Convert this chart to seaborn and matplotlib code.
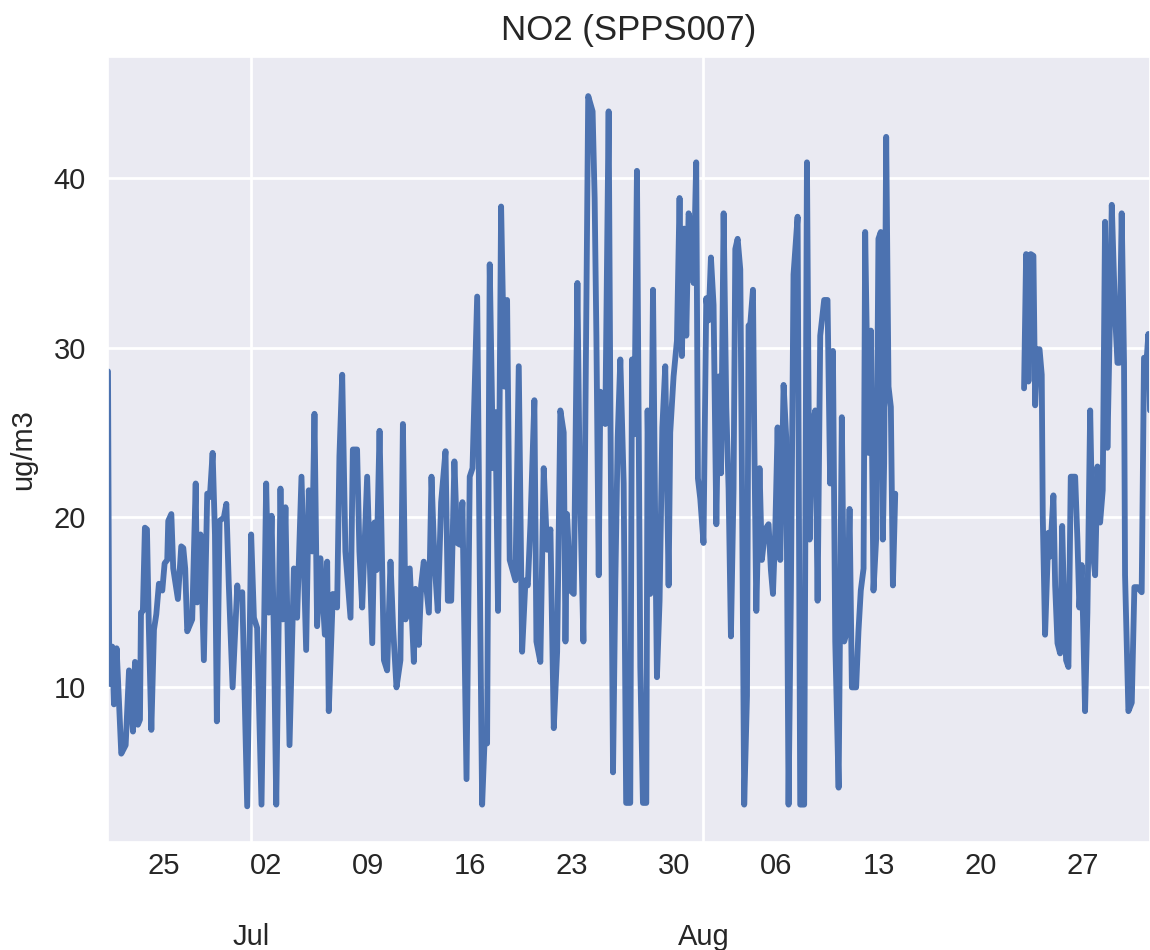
import numpy as np
import pandas as pd
import seaborn as sns
import matplotlib
matplotlib.use("Agg")
import matplotlib.pyplot as plt
import matplotlib.dates as mdates
from matplotlib.ticker import MultipleLocator

# hourly NO2 at SPPS007 (days after 2018-06-21 00:00)
start = pd.Timestamp("2018-06-21")

seg1_days = [
    0.19, 0.28, 0.48, 0.60, 0.78, 1.10, 1.40, 1.63, 1.90, 2.04, 2.24, 2.38, 2.45, 2.58,
    2.72, 2.86, 2.99, 3.16, 3.34, 3.50, 3.68, 3.91, 4.07, 4.25, 4.32, 4.53, 4.66, 4.98,
    5.21, 5.35, 5.48, 5.62, 5.96, 6.20, 6.30, 6.53, 6.76, 6.99, 7.17, 7.36, 7.52, 7.65,
    7.84, 8.13, 8.30, 8.47, 8.73, 9.05, 9.11, 9.39, 9.73, 10.00, 10.19, 10.41, 10.71,
    11.03, 11.21, 11.40, 11.56, 11.72, 12.01, 12.17, 12.35, 12.63, 12.93, 13.15, 13.45,
    13.77, 13.95, 14.18, 14.34, 14.52, 14.75, 15.05, 15.21, 15.32, 15.60, 15.89, 16.05,
    16.24, 16.46, 16.81, 16.97, 17.26, 17.42, 17.61, 17.95, 18.30, 18.45, 18.59, 18.80,
    19.10, 19.32, 19.55, 19.73, 19.96, 20.23, 20.40, 20.58, 20.87, 21.15, 21.26, 21.49,
    21.65, 21.83, 22.18, 22.36, 22.56, 22.79, 23.02, 23.32, 23.48, 23.71, 23.93, 24.12,
    24.30, 24.48, 24.76, 24.98, 25.17, 25.49, 25.67, 25.83, 25.99, 26.17, 26.35, 26.58,
    26.74, 26.92, 27.13, 27.36, 27.54, 27.72, 28.11, 28.34, 28.57, 28.80, 28.96, 29.14,
    29.41, 29.55, 29.82, 30.05, 30.28, 30.51, 30.74, 30.97, 31.19, 31.42, 31.54, 31.65,
    31.88, 32.11, 32.36, 32.50, 32.77, 33.10, 33.40, 33.54, 33.66, 33.82, 33.93, 34.11,
    34.27, 34.50, 34.61, 34.80, 34.96, 35.12, 35.30, 35.53, 35.70, 35.98, 36.10, 36.26,
    36.44, 36.67, 36.85, 37.08, 37.17, 37.35, 37.54, 37.70, 37.81, 37.99, 38.18, 38.38,
    38.61, 38.72, 38.95, 39.18, 39.36, 39.52, 39.68, 39.82, 39.98, 40.21, 40.32, 40.50,
    40.62, 40.78, 41.00, 41.19, 41.35, 41.51, 41.69, 41.88, 42.04, 42.20, 42.38, 42.56,
    42.72, 42.88, 43.06, 43.18, 43.34, 43.52, 43.63, 43.79, 43.98, 44.09, 44.20, 44.39,
    44.48, 44.62, 44.84, 45.00, 45.23, 45.46, 45.62, 45.76, 45.92, 46.08, 46.26, 46.49,
    46.67, 46.83, 46.99, 47.17, 47.45, 47.63, 47.90, 48.09, 48.27, 48.43, 48.66, 48.82,
    49.00, 49.27, 49.50, 49.68, 49.87, 50.03, 50.26, 50.48, 50.64, 50.83, 51.01, 51.17,
    51.46, 51.62, 51.78, 51.97, 52.08, 52.31, 52.47, 52.65, 52.83, 52.99, 53.15, 53.29,
    53.38, 53.52, 53.68, 53.84, 53.98, 54.14,
]
seg1_no2 = [
    28.6, 10.2, 12.4, 9.0, 12.3, 6.1, 6.6, 11.0, 7.4, 11.5, 7.8, 8.1, 14.4, 14.5,
    19.4, 19.3, 13.5, 7.5, 13.4, 14.3, 16.1, 15.7, 17.3, 17.5, 19.8, 20.2, 17.0, 15.2,
    18.3, 18.2, 17.0, 13.3, 14.0, 22.0, 15.0, 19.0, 11.6, 21.4, 21.2, 23.8, 19.0, 8.0,
    19.8, 20.0, 20.8, 16.0, 10.0, 16.0, 15.3, 15.6, 3.0, 19.0, 14.1, 13.5, 3.1,
    22.0, 14.4, 20.1, 13.0, 3.1, 21.7, 14.0, 20.6, 6.6, 17.0, 14.1, 22.4,
    12.2, 21.6, 18.0, 26.1, 13.6, 17.6, 13.1, 17.4, 8.6, 15.5, 14.7, 23.6,
    28.4, 18.0, 14.1, 24.0, 24.0, 18.0, 14.7, 22.4, 12.6, 19.7, 16.9, 25.1,
    11.6, 11.0, 17.4, 13.5, 10.0, 11.6, 25.5, 14.0, 17.0, 11.5, 15.8, 12.5,
    16.0, 17.4, 14.4, 22.4, 17.5, 14.5, 20.9, 23.9, 15.1, 15.1, 23.3, 18.5,
    18.4, 20.9, 4.6, 22.4, 22.9, 33.0, 16.6, 3.1, 6.7, 6.7, 34.9, 22.9,
    26.2, 14.5, 38.3, 27.7, 32.8, 17.5, 16.3, 28.9, 12.1, 16.3, 16.0, 19.6,
    26.9, 12.7, 11.5, 22.9, 18.1, 19.3, 7.6, 12.1, 26.3, 25.0, 12.7, 20.2,
    15.7, 15.5, 33.8, 23.2, 12.7, 44.8, 43.9, 38.8, 30.7, 16.6, 27.4, 26.2,
    25.5, 43.9, 27.7, 5.0, 16.3, 24.7, 29.3, 22.0, 3.2, 3.2, 29.3, 24.9,
    40.4, 11.2, 3.2, 3.2, 26.3, 15.5, 33.4, 18.7, 10.6, 15.1, 25.3, 28.9,
    16.0, 25.0, 28.3, 30.4, 38.8, 29.5, 37.0, 30.7, 37.9, 37.0, 33.8, 40.9,
    22.3, 21.1, 18.5, 32.9, 31.6, 35.3, 32.5, 19.6, 28.3, 22.6, 37.9, 26.5,
    21.7, 13.0, 21.7, 35.8, 36.4, 34.6, 23.0, 3.1, 9.5, 31.3, 31.3, 33.4,
    24.7, 14.5, 22.9, 17.5, 19.3, 19.6, 16.9, 15.5, 19.3, 25.3, 17.5, 27.8,
    24.7, 3.1, 15.7, 34.3, 37.7, 3.1, 3.1, 40.9, 18.7, 25.3, 26.3, 15.1,
    30.7, 32.8, 32.8, 22.0, 29.8, 12.7, 4.1, 25.9, 12.7, 13.3, 20.5, 10.0,
    10.0, 13.3, 15.7, 17.0, 36.8, 23.8, 31.0, 15.7, 18.7, 36.4, 36.8, 18.7,
    23.2, 42.4, 27.7, 26.5, 16.0, 21.4,
]

seg2_days = [
    62.97, 63.11, 63.27, 63.43, 63.61, 63.73, 63.89, 64.03, 64.18, 64.25, 64.41, 64.64,
    64.75, 64.98, 65.10, 65.26, 65.44, 65.58, 65.71, 65.85, 66.01, 66.17, 66.47, 66.63,
    66.76, 66.92, 67.04, 67.15, 67.31, 67.50, 67.68, 67.84, 68.00, 68.18, 68.36, 68.52,
    68.68, 68.86, 68.98, 69.21, 69.37, 69.50, 69.66, 69.82, 69.89, 70.12, 70.35, 70.53,
    70.74, 71.03, 71.19, 71.38, 71.49, 71.60,
]
seg2_no2 = [
    27.6, 35.5, 28.0, 35.5, 35.4, 26.6, 29.9, 29.9, 28.4, 20.1, 13.1, 19.1,
    17.7, 21.3, 16.0, 12.6, 12.0, 19.5, 15.0, 11.6, 11.2, 22.4, 22.4, 18.6,
    14.7, 17.2, 13.0, 8.6, 14.4, 26.3, 18.0, 16.6, 23.0, 19.7, 21.6, 37.4,
    24.1, 31.9, 38.4, 31.9, 29.1, 29.1, 37.9, 29.1, 16.6, 8.6, 9.1, 15.9,
    15.9, 15.6, 29.4, 29.4, 30.8, 26.3,
]

df = pd.DataFrame({
    "days": seg1_days + seg2_days,
    "no2": seg1_no2 + seg2_no2,
    "segment": [1] * len(seg1_days) + [2] * len(seg2_days),
})
df["time"] = start + pd.to_timedelta(df["days"], unit="D")

sns.set_theme(style="darkgrid", rc={"grid.linewidth": 2})
plt.rcParams["font.family"] = ["Liberation Sans", "DejaVu Sans"]

fig = plt.figure(figsize=(11.5, 9.5), dpi=100)
ax = fig.add_axes([108 / 1150, 1 - 842 / 950, 1042 / 1150, 785 / 950])

sns.lineplot(data=df, x="time", y="no2", units="segment", estimator=None,
             color="#4C72B0", linewidth=4.2, ax=ax)

ax.set_xlim(df["time"].min(), df["time"].max())
ax.set_ylim(0.9, 47.1)
ax.yaxis.set_major_locator(MultipleLocator(10))

# weekly day numbers, month names on a second row further down
ax.xaxis.set_major_locator(mdates.MonthLocator())
ax.xaxis.set_major_formatter(mdates.DateFormatter("%b"))
ax.xaxis.set_minor_locator(mdates.WeekdayLocator(byweekday=mdates.MO))
ax.xaxis.set_minor_formatter(mdates.DateFormatter("%d"))
ax.tick_params(axis="x", which="minor", labelsize=21, pad=7, length=0)
ax.tick_params(axis="x", which="major", labelsize=21, pad=58, length=0)
ax.tick_params(axis="y", labelsize=21, pad=10)

ax.set_xlabel("")
ax.set_ylabel("ug/m3", fontsize=21, labelpad=12)
ax.set_title("NO2 (SPPS007)", fontsize=25, pad=12)

fig.savefig("out.png", dpi=100)
